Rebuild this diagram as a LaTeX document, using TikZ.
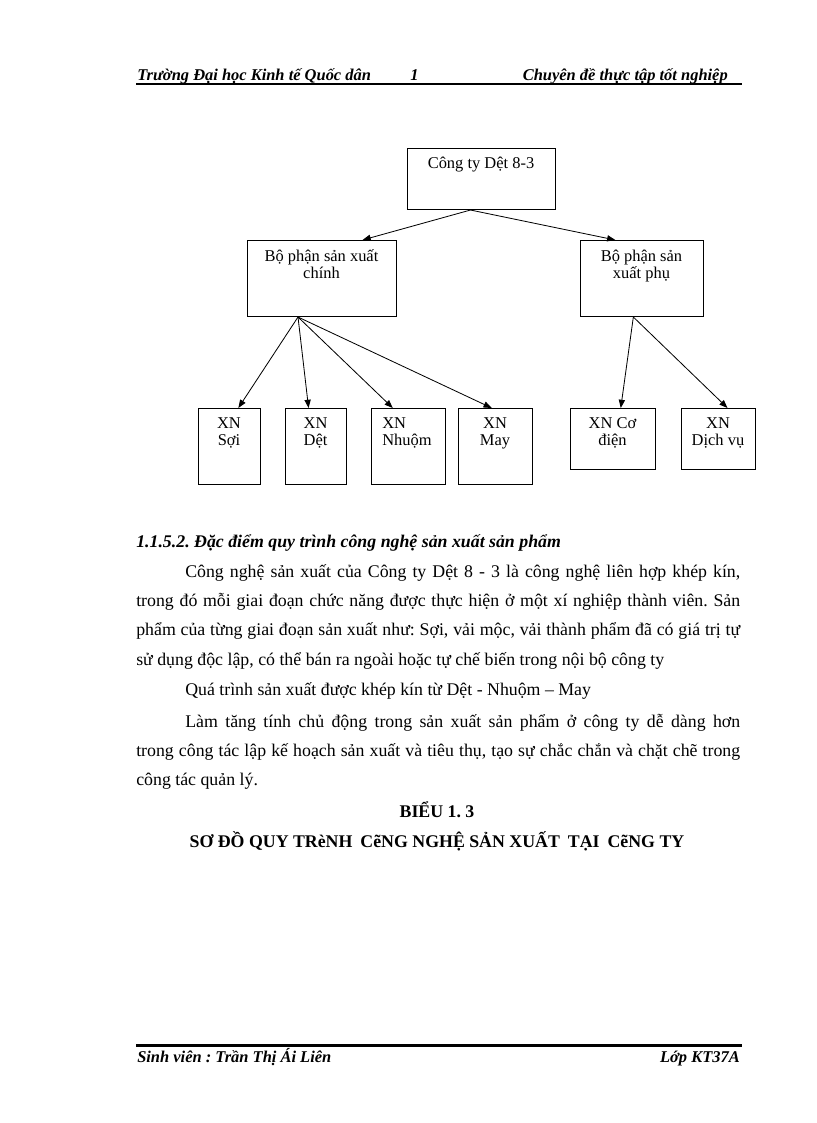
\documentclass[tikz,border=0pt]{standalone}
\usepackage{fontspec}
\setmainfont{Liberation Serif}
\usetikzlibrary{arrows.meta,calc}
\def\pxu{0.7297pt}
\frenchspacing
\begin{document}
\begin{tikzpicture}[x=0.7297pt,y=-0.7297pt,
  box/.style 2 args={draw, line width=0.75pt, inner sep=0, anchor=north west, minimum width={#1*\pxu}, minimum height={#2*\pxu}},
  lbl/.style={inner sep=0, anchor=base, font=\fontsize{12}{13}\selectfont},
  txt/.style={inner sep=0, anchor=base west, font=\fontsize{13}{15}\selectfont},
  hdr/.style={inner sep=0, anchor=base west, font=\fontsize{12}{14}\selectfont\bfseries\itshape},
  sec/.style={inner sep=0, anchor=base west, font=\fontsize{13}{15}\selectfont\bfseries\itshape},
  ttl/.style={inner sep=0, anchor=base, font=\fontsize{13}{15}\selectfont\bfseries},
  arr/.style={line width=0.6pt, -{Triangle[length=6pt,width=4.5pt]}},
  rule/.style={line width=1.5pt},
]
\useasboundingbox[fill=white] (0,0) rectangle (816,1123);

% header
\node[hdr] (h1) at (137,80) {Trường Đại học Kinh tế Quốc dân};
\node[hdr] (h2) at (410,80) {1};
\node[hdr, anchor=base east] (h3) at (728,80) {Chuyên đề thực tập tốt nghiệp};
\coordinate (hl) at (136,84);
\coordinate (hr) at (742,84);
\draw[rule] (hl) -- (hr);

% boxes
\node[box={148}{61}] (top) at (407,148) {};
\node[box={149}{76}] (bpc) at (247,240) {};
\node[box={123}{76}] (bpp) at (580,240) {};
\node[box={62}{76}] (soi) at (198,408) {};
\node[box={61}{76}] (det) at (285,408) {};
\node[box={74}{76}] (nhuom) at (371,408) {};
\node[box={74}{76}] (may) at (458,408) {};
\node[box={85}{61}] (codien) at (570,408) {};
\node[box={74}{61}] (dichvu) at (681,408) {};

% labels
\node[lbl] (topt) at (481,168) {Công ty Dệt 8-3};
\node[lbl] (bpct) at (321.5,261) {\begin{tabular}[t]{@{}c@{}}Bộ phận sản xuất\\chính\end{tabular}};
\node[lbl] (bppt) at (641.5,261) {\begin{tabular}[t]{@{}c@{}}Bộ phận sản\\xuất phụ\end{tabular}};
\node[lbl] (soit) at (229,428) {\begin{tabular}[t]{@{}c@{}}XN\\Sợi\end{tabular}};
\node[lbl] (dett) at (315.5,428) {\begin{tabular}[t]{@{}c@{}}XN\\Dệt\end{tabular}};
\node[lbl, anchor=base west] (nhuomt) at (382,428) {\begin{tabular}[t]{@{}l@{}}XN\\Nhuộm\end{tabular}};
\node[lbl] (mayt) at (495,428) {\begin{tabular}[t]{@{}c@{}}XN\\May\end{tabular}};
\node[lbl] (codient) at (612.5,428) {\begin{tabular}[t]{@{}c@{}}XN Cơ\\điện\end{tabular}};
\node[lbl] (dichvut) at (718,428) {\begin{tabular}[t]{@{}c@{}}XN\\Dịch vụ\end{tabular}};

% connectors
\draw[arr] ($(top.south west)!0.426!(top.south east)$) -- ($(bpc.north west)!0.77!(bpc.north east)$);
\draw[arr] ($(top.south west)!0.426!(top.south east)$) -- ($(bpp.north west)!0.285!(bpp.north east)$);
\draw[arr] ($(bpc.south west)!0.34!(bpc.south east)$) -- ($(soi.north west)!0.64!(soi.north east)$);
\draw[arr] ($(bpc.south west)!0.34!(bpc.south east)$) -- ($(det.north west)!0.38!(det.north east)$);
\draw[arr] ($(bpc.south west)!0.34!(bpc.south east)$) -- ($(nhuom.north west)!0.29!(nhuom.north east)$);
\draw[arr] ($(bpc.south west)!0.34!(bpc.south east)$) -- ($(may.north west)!0.45!(may.north east)$);
\draw[arr] ($(bpp.south west)!0.43!(bpp.south east)$) -- ($(codien.north west)!0.59!(codien.north east)$);
\draw[arr] ($(bpp.south west)!0.43!(bpp.south east)$) -- ($(dichvu.north west)!0.62!(dichvu.north east)$);

% text
\node[sec] (secn) at (136,547) {1.1.5.2. Đặc điểm quy trình công nghệ sản xuất sản phẩm};
\node[txt] (p1) at (185,577) {\makebox[405pt][s]{Công nghệ sản xuất của Công ty Dệt 8 - 3 là công nghệ liên hợp khép kín,}};
\node[txt] (p2) at (136,606) {\makebox[440.7pt][s]{trong đó mỗi giai đoạn chức năng được thực hiện ở một xí nghiệp thành viên. Sản}};
\node[txt] (p3) at (136,635) {\makebox[440.7pt][s]{phẩm của từng giai đoạn sản xuất như: Sợi, vải mộc, vải thành phẩm đã có giá trị tự}};
\node[txt] (p4) at (136,665) {sử dụng độc lập, có thể bán ra ngoài hoặc tự chế biến trong nội bộ công ty};
\node[txt] (p5) at (185,695) {Quá trình sản xuất được khép kín từ Dệt - Nhuộm – May};
\node[txt] (p6) at (185,727) {\makebox[405pt][s]{Làm tăng tính chủ động trong sản xuất sản phẩm ở công ty dễ dàng hơn}};
\node[txt] (p7) at (136,756) {\makebox[440.7pt][s]{trong công tác lập kế hoạch sản xuất và tiêu thụ, tạo sự chắc chắn và chặt chẽ trong}};
\node[txt] (p8) at (136,785) {công tác quản lý.};
\node[ttl] (t1) at (437,817) {BIỂU 1. 3};
\node[ttl] (t2) at (437,847) {SƠ ĐỒ QUY TRèNH\hspace{0.2em} CẽNG NGHỆ SẢN XUẤT\hspace{0.2em} TẠI\hspace{0.2em} CẽNG TY};

% footer
\coordinate (fl) at (136,1045.5);
\coordinate (fr) at (742,1045.5);
\draw[rule] (fl) -- (fr);
\node[hdr] (f1) at (137,1062) {Sinh viên : Trần Thị Ái Liên};
\node[hdr, anchor=base east] (f2) at (740,1062) {Lớp KT37A};
\end{tikzpicture}
\end{document}
